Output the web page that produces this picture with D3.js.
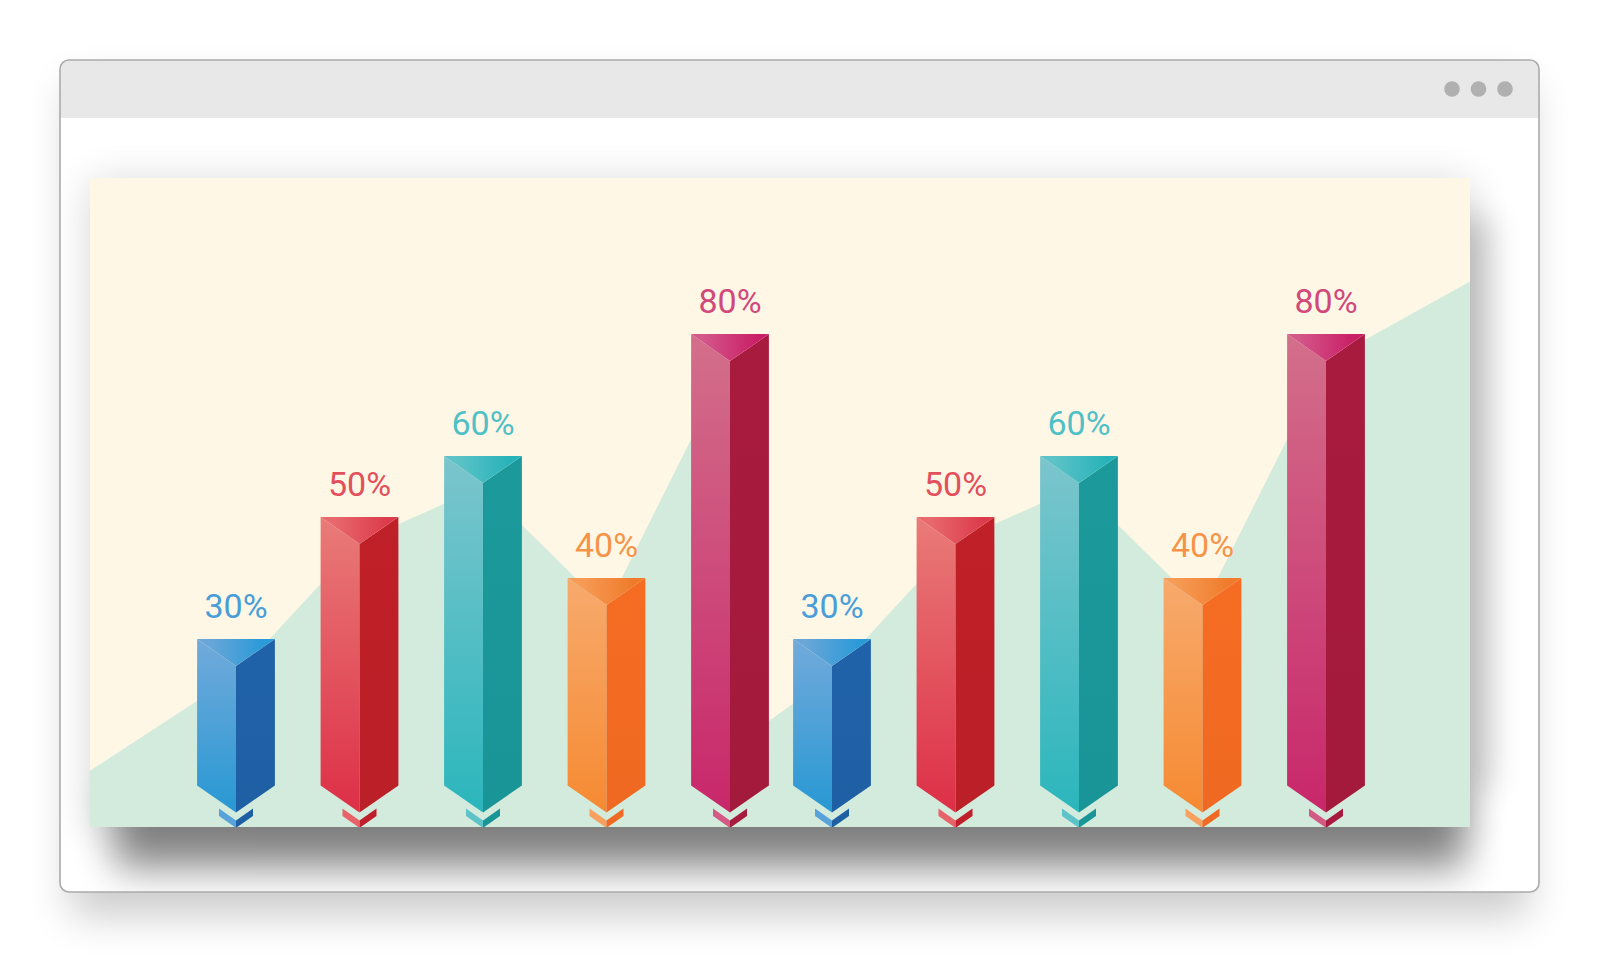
<!DOCTYPE html>
<html>
<head>
<meta charset="utf-8">
<script src="https://cdn.jsdelivr.net/npm/d3@7/dist/d3.min.js"></script>
<style>
  html, body { margin: 0; padding: 0; background: #ffffff; }
  svg { display: block; }
</style>
</head>
<body>
<svg id="chart" width="1600" height="978"></svg>
<script>
// ---------------- data ----------------
const groups = [0, 1];
const items = [0, 1, 2, 3, 4];
const values = [30, 50, 60, 40, 80, 30, 50, 60, 40, 80];
const labels = ["30%", "50%", "60%", "40%", "80%", "30%", "50%", "60%", "40%", "80%"];
const colorKeys = ["blue", "red", "teal", "orange", "magenta", "blue", "red", "teal", "orange", "magenta"];
// background mountain: [group, position within group (item units), value]
const mountainGroup = [0, 0, 0, 0, 0, 0, 1, 1, 1, 1, 1, 1, 1];
const mountainSlot  = [-1.25, 0, 1, 2, 3, 4, -0.55, 0, 1, 2, 3, 4, 5.2];
const mountainValue = [7.5, 24, 46, 55, 35, 75.5, 16, 24, 46, 55, 35, 75.5, 89];

// ---------------- styles ----------------
const palette = {
  blue:    { leftTop: "#72aadb", leftBot: "#2898d3", right: "#1f5fa4", topL: "#6aa6d8", topR: "#2a9ad8", label: "#4a9ed8", chevL: "#5aa2da", chevR: "#1f5fa4" },
  red:     { leftTop: "#e97b78", leftBot: "#dd2f47", right: "#bb1f27", topL: "#e86a6e", topR: "#dc3b4b", label: "#e1505b", chevL: "#e8626a", chevR: "#bf1f2b" },
  teal:    { leftTop: "#7cc5cd", leftBot: "#2bb6bc", right: "#1a9597", topL: "#5ec3c8", topR: "#27b3b9", label: "#4fc0c6", chevL: "#5ec3c8", chevR: "#1a9597" },
  orange:  { leftTop: "#f7aa6d", leftBot: "#f68a32", right: "#ef6922", topL: "#f69c57", topR: "#f07b2a", label: "#f59448", chevL: "#f7a060", chevR: "#ef6922" },
  magenta: { leftTop: "#d36f8b", leftBot: "#c8276a", right: "#a31a3c", topL: "#d4578a", topR: "#c91f66", label: "#d0497a", chevL: "#d25a84", chevR: "#a61b3e" }
};

const W = 1600, H = 978;
const win = { x: 60, y: 60, w: 1479, h: 832, bar: 58, r: 9 };
const panel = { x: 90, y: 178, w: 1380, h: 649 };

const svg = d3.select("#chart");
const defs = svg.append("defs");

// scales
const xGroup = d3.scaleLinear().domain([0, 1]).range([236, 832]);
const xItem = d3.scaleLinear().domain([0, 4]).range([0, 494]);
const y = d3.scaleLinear().domain([0, 80]).range([822, 334]);
const xPos = (g, i) => xGroup(g) + xItem(i);
const barW = (xItem(1) - xItem(0)) * 0.63;

// filters
function blurFilter(id, sd) {
  const f = defs.append("filter").attr("id", id)
    .attr("filterUnits", "userSpaceOnUse").attr("x", 0).attr("y", 0).attr("width", W).attr("height", H);
  f.append("feGaussianBlur").attr("stdDeviation", sd);
}
blurFilter("winShadow", 20);
blurFilter("panelShadow", 20);
blurFilter("panelShadowBottom", 19);
blurFilter("panelShadowSide", 16);

// clip for window content
defs.append("clipPath").attr("id", "winClip")
  .append("rect").attr("x", win.x).attr("y", win.y).attr("width", win.w).attr("height", win.h).attr("rx", win.r);
defs.append("clipPath").attr("id", "panelClip")
  .append("rect").attr("x", panel.x).attr("y", panel.y).attr("width", panel.w).attr("height", panel.h);

// window shadow
svg.append("rect")
  .attr("x", win.x + 10).attr("y", win.y + 24).attr("width", win.w - 20).attr("height", win.h)
  .attr("rx", win.r).attr("fill", "#000").attr("opacity", 0.2).attr("filter", "url(#winShadow)");

// window body
svg.append("rect")
  .attr("x", win.x).attr("y", win.y).attr("width", win.w).attr("height", win.h)
  .attr("rx", win.r).attr("fill", "#ffffff");

const content = svg.append("g").attr("clip-path", "url(#winClip)");
content.append("rect")
  .attr("x", win.x).attr("y", win.y).attr("width", win.w).attr("height", win.bar)
  .attr("fill", "#e8e8e8");

// panel shadows
content.append("rect")
  .attr("x", panel.x).attr("y", panel.y + 4).attr("width", panel.w).attr("height", panel.h)
  .attr("fill", "#000").attr("opacity", 0.16).attr("filter", "url(#panelShadow)");
content.append("rect")
  .attr("x", panel.x + panel.w - 30).attr("y", panel.y + 40).attr("width", 50).attr("height", panel.h - 80)
  .attr("fill", "#000").attr("opacity", 0.2).attr("filter", "url(#panelShadowSide)");
content.append("rect")
  .attr("x", panel.x + 25).attr("y", panel.y + panel.h - 40).attr("width", panel.w - 30).attr("height", 82)
  .attr("fill", "#000").attr("opacity", 0.45).attr("filter", "url(#panelShadowBottom)");

// dots
const dots = [0, 1, 2];
content.selectAll("circle.dot").data(dots).enter().append("circle")
  .attr("class", "dot")
  .attr("cx", d => win.x + win.w - 87 + d * 26.5)
  .attr("cy", win.y + 29)
  .attr("r", 7.8)
  .attr("fill", "#b0b0b0");

// window border
svg.append("rect")
  .attr("x", win.x).attr("y", win.y).attr("width", win.w).attr("height", win.h)
  .attr("rx", win.r).attr("fill", "none").attr("stroke", "#ababab").attr("stroke-width", 1.6);

// ---------------- panel ----------------
const pg = content.append("g").attr("clip-path", "url(#panelClip)");
pg.append("rect")
  .attr("x", panel.x).attr("y", panel.y).attr("width", panel.w).attr("height", panel.h)
  .attr("fill", "#fef7e6");

// mountain area
const mPts = mountainValue.map((v, k) => [xPos(mountainGroup[k], mountainSlot[k]), y(v)]);
const area = d3.area().x(d => d[0]).y0(panel.y + panel.h + 5).y1(d => d[1]);
pg.append("path").datum(mPts).attr("d", area).attr("fill", "#d3ebdc");

// gradients
Object.keys(palette).forEach(k => {
  const p = palette[k];
  const gl = defs.append("linearGradient").attr("id", "gl-" + k).attr("x1", 0).attr("y1", 0).attr("x2", 0).attr("y2", 1);
  gl.append("stop").attr("offset", "0%").attr("stop-color", p.leftTop);
  gl.append("stop").attr("offset", "100%").attr("stop-color", p.leftBot);
  const gt = defs.append("linearGradient").attr("id", "gt-" + k).attr("x1", 0).attr("y1", 0).attr("x2", 1).attr("y2", 0);
  gt.append("stop").attr("offset", "15%").attr("stop-color", p.topL);
  gt.append("stop").attr("offset", "85%").attr("stop-color", p.topR);
  const gr = defs.append("linearGradient").attr("id", "gr-" + k).attr("x1", 0).attr("y1", 0).attr("x2", 0).attr("y2", 1);
  gr.append("stop").attr("offset", "0%").attr("stop-color", d3.color(p.right).brighter(0.08));
  gr.append("stop").attr("offset", "100%").attr("stop-color", p.right);
});

const bars = values.map((v, k) => ({
  v, label: labels[k], key: colorKeys[k],
  g: Math.floor(k / items.length), i: k % items.length
}));

const bevel = 27;
const baseY = y(6);
const hw = barW / 2;
const poly = pts => "M" + pts.map(p => p.join(",")).join("L") + "Z";

const bg = pg.selectAll("g.bar").data(bars).enter().append("g").attr("class", "bar");

bg.each(function(d) {
  const g = d3.select(this);
  const c = xPos(d.g, d.i);
  const t = y(d.v);
  const p = palette[d.key];
  // left face
  g.append("path")
    .attr("d", poly([[c - hw, t], [c, t + bevel], [c, baseY + bevel], [c - hw, baseY]]))
    .attr("fill", `url(#gl-${d.key})`);
  // right face
  g.append("path")
    .attr("d", poly([[c, t + bevel], [c + hw, t], [c + hw, baseY], [c, baseY + bevel]]))
    .attr("fill", `url(#gr-${d.key})`);
  // top triangle
  g.append("path")
    .attr("d", poly([[c - hw, t], [c + hw, t], [c, t + bevel]]))
    .attr("fill", `url(#gt-${d.key})`);
  // chevron
  const cw = 17, cTop = baseY + bevel - 4, cDrop = 12, cTh = 7.5;
  g.append("path")
    .attr("d", poly([[c - cw, cTop], [c, cTop + cDrop], [c, cTop + cDrop + cTh], [c - cw, cTop + cTh]]))
    .attr("fill", p.chevL);
  g.append("path")
    .attr("d", poly([[c, cTop + cDrop], [c + cw, cTop], [c + cw, cTop + cTh], [c, cTop + cDrop + cTh]]))
    .attr("fill", p.chevR);
  // label
  g.append("text")
    .attr("x", c)
    .attr("y", t - 21)
    .attr("text-anchor", "middle")
    .attr("font-family", "Roboto, 'Liberation Sans', Arial, sans-serif")
    .attr("font-weight", 400)
    .attr("font-size", 34)
    .attr("fill", p.label)
    .text(d.label);
});
</script>
</body>
</html>
